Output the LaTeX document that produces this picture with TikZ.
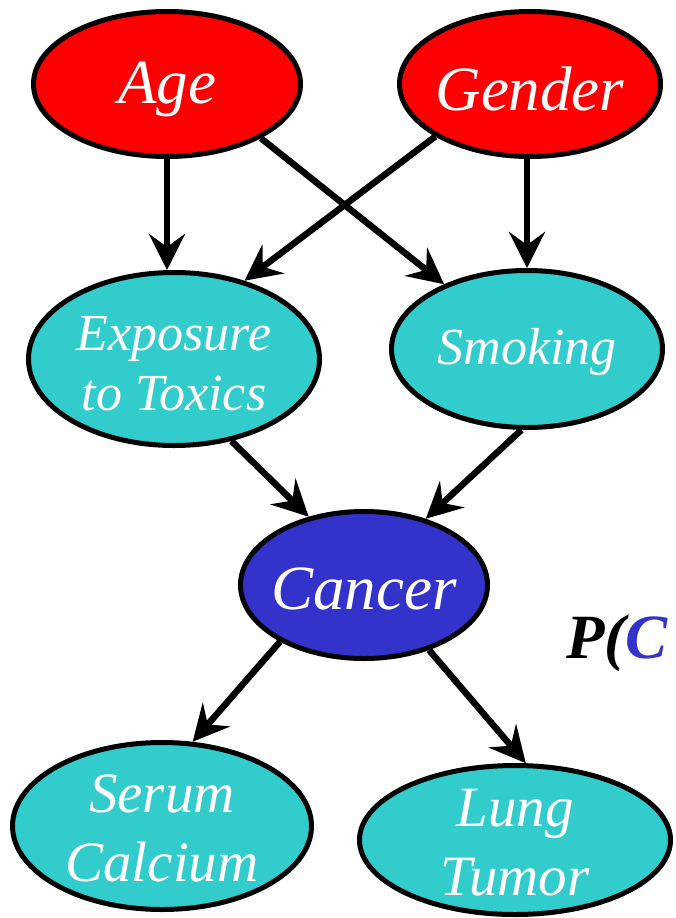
\documentclass[tikz,border=0pt]{standalone}
\usepackage{fontspec}
\setmainfont{Liberation Serif}
\usetikzlibrary{arrows.meta,shapes.geometric}
\definecolor{nodered}{HTML}{FF0000}
\definecolor{nodecyan}{HTML}{33CCCC}
\definecolor{nodeblue}{HTML}{3333CC}

\begin{document}
\begin{tikzpicture}[x=1pt,y=-1pt,
  var/.style={ellipse, draw=black, line width=5pt, inner sep=0pt},
  txt/.style={text=white, align=center, inner sep=0pt},
  big/.style={font=\fontsize{63}{70}\selectfont\itshape},
  mid/.style={font=\fontsize{57}{69}\selectfont\itshape},
  small/.style={font=\fontsize{52}{60}\selectfont\itshape},
  link/.style={line width=6.5pt, -{Stealth[length=36pt,width=36pt,inset=13pt]}}]

\clip (0,0) rectangle (675,918);

% variables
\node[var, fill=nodered, minimum width=267pt, minimum height=145pt] (age) at (167,84) {};
\node[txt, big] (agetxt) at ([yshift=-5pt]age.center) {Age};
\node[var, fill=nodered, minimum width=261pt, minimum height=145pt] (gen) at (530,84) {};
\node[txt, big] (gentxt) at ([yshift=-5pt]gen.center) {Gender};

\node[var, fill=nodecyan, minimum width=291pt, minimum height=173pt] (exp) at (174,359) {};
\node[txt, small] (exptxt) at ([yshift=-5pt]exp.center) {Exposure\\to Toxics};
\node[var, fill=nodecyan, minimum width=271pt, minimum height=157pt] (smoke) at (527,349) {};
\node[txt, small] (smoketxt) at ([yshift=-3pt]smoke.center) {Smoking};

\node[var, fill=nodeblue, minimum width=247pt, minimum height=147pt] (cancer) at (364,585) {};
\node[txt, big] (cancertxt) at ([yshift=-4pt]cancer.center) {Cancer};

\node[var, fill=nodecyan, minimum width=299pt, minimum height=167pt] (serum) at (162,826) {};
\node[txt, mid] (serumtxt) at ([yshift=-2pt]serum.center) {Serum\\Calcium};
\node[var, fill=nodecyan, minimum width=311pt, minimum height=149pt] (lung) at (515,840) {};
\node[txt, mid] (lungtxt) at ([yshift=-3pt]lung.center) {Lung\\Tumor};

% dependencies
\draw[link] (age.south) -- (age.south |- exp.north);
\draw[link] (age.-30) -- (smoke.142);
\draw[link] (gen.-151) -- (exp.48);
\draw[link] (smoke.north |- gen.south) -- (smoke.north);
\draw[link] (exp.-55) -- (cancer.129);
\draw[link] (smoke.-94) -- (cancer.47);
\draw[link] (cancer.-146) -- (serum.70);
\draw[link] (cancer.-45) -- (lung.82);

% probability expression
\node[anchor=base west, inner sep=0pt, font=\fontsize{63}{70}\selectfont\bfseries\itshape] (prob) at (566,658) {P(\textcolor{nodeblue}{C}};
\end{tikzpicture}
\end{document}
